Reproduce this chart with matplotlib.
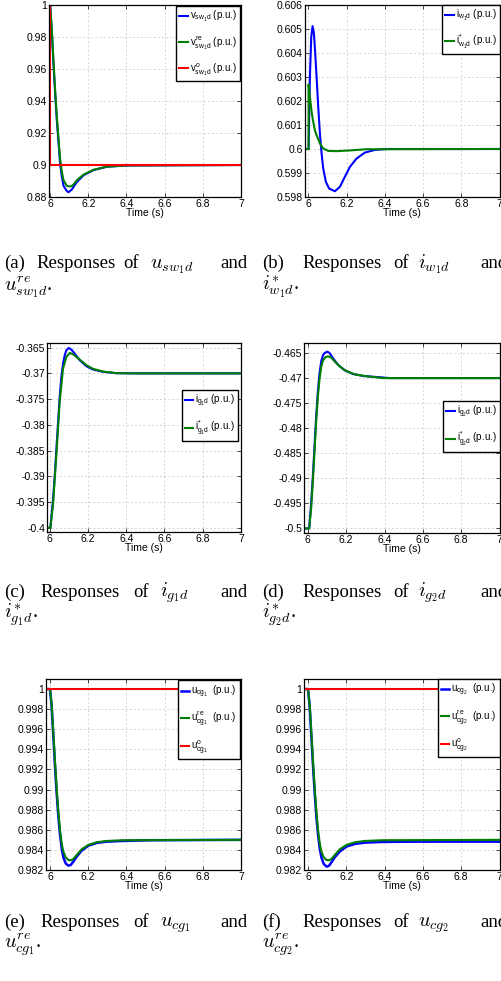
"""
Step responses of the converter states (six panels, 3 x 2, paper style).
"""

import numpy as np
import matplotlib
matplotlib.use('Agg')
import matplotlib.pyplot as plt
from matplotlib.ticker import FormatStrFormatter

plt.rcParams['font.family'] = ['Liberation Sans', 'DejaVu Sans']
plt.rcParams['mathtext.fontset'] = 'custom'
plt.rcParams['mathtext.rm'] = 'Liberation Sans'
plt.rcParams['mathtext.it'] = 'Liberation Sans'
plt.rcParams['mathtext.bf'] = 'Liberation Sans:bold'

BLUE, GREEN, RED = '#0000ff', '#008000', '#ff0000'

# ---------------- data ----------------
# (a) u_sw1d
t_a_blue = [5.98, 6.0, 6.009, 6.017, 6.026, 6.035, 6.044, 6.052, 6.061, 6.07,
            6.087, 6.096, 6.113, 6.14, 6.175, 6.227, 6.297, 6.401, 7.0]
v_a_blue = [1.0, 1.0, 0.983, 0.964, 0.945, 0.928, 0.914, 0.901, 0.893, 0.887,
            0.8838, 0.8830, 0.8846, 0.8894, 0.8936, 0.8968, 0.8989, 0.8997, 0.9]
t_a_green = [5.98, 6.0, 6.009, 6.017, 6.026, 6.035, 6.044, 6.052, 6.061, 6.07,
             6.087, 6.105, 6.12, 6.14, 6.175, 6.227, 6.297, 6.4, 7.0]
v_a_green = [1.0, 1.0, 0.984, 0.966, 0.947, 0.930, 0.916, 0.904, 0.896, 0.8905,
             0.887, 0.8865, 0.8875, 0.8905, 0.894, 0.897, 0.899, 0.8997, 0.9]
t_a_red = [5.98, 6.0, 6.0, 7.0]
v_a_red = [1.0, 1.0, 0.9, 0.9]

# (b) i_w1d
t_b_blue = [5.98, 6.0, 6.0017, 6.0087, 6.0157, 6.0226, 6.0296, 6.0365, 6.0435,
            6.0522, 6.0609, 6.0696, 6.0783, 6.0922, 6.1096, 6.1391, 6.1652,
            6.1913, 6.2174, 6.2522, 6.2957, 6.3478, 6.4087, 7.0]
v_b_blue = [0.6, 0.6, 0.6, 0.60301, 0.60468, 0.60512, 0.60482, 0.60398, 0.60301,
            0.60176, 0.60065, 0.59982, 0.59919, 0.59863, 0.59835, 0.59824, 0.59842,
            0.59884, 0.59925, 0.5996, 0.59985, 0.59996, 0.6, 0.6]
t_b_green = [5.98, 6.0017, 6.0017, 6.0087, 6.0174, 6.0261, 6.0348, 6.0435, 6.0609,
             6.0783, 6.1043, 6.1478, 6.2174, 6.3043, 7.0]
v_b_green = [0.6, 0.6, 0.60269, 0.60218, 0.60155, 0.60113, 0.60078, 0.60058, 0.60023,
             0.60002, 0.59992, 0.59991, 0.59994, 0.59999, 0.6]

# (c) i_g1d
t_c_blue = [5.98, 6.0035, 6.0175, 6.0262, 6.0349, 6.0436, 6.0524, 6.0611, 6.0698,
            6.0785, 6.0873, 6.0995, 6.1134, 6.1309, 6.1571, 6.192, 6.2269, 6.2792,
            6.349, 6.4363, 7.0]
v_c_blue = [-0.4, -0.4, -0.39451, -0.39, -0.38484, -0.37969, -0.37454, -0.37067,
            -0.36809, -0.36648, -0.36552, -0.36506, -0.36539, -0.36616, -0.36745,
            -0.36861, -0.36925, -0.3697, -0.36996, -0.37, -0.37]
t_c_green = [5.98, 6.0035, 6.0175, 6.0349, 6.0524, 6.0698, 6.0873, 6.1047, 6.1222,
             6.1571, 6.192, 6.2269, 6.2792, 6.349, 6.4363, 7.0]
v_c_green = [-0.4, -0.4, -0.39548, -0.38581, -0.3755, -0.36906, -0.3668, -0.36603,
             -0.36629, -0.36732, -0.36841, -0.36912, -0.36964, -0.36996, -0.37, -0.37]

# (d) i_g2d
t_d_blue = [5.98, 6.007, 6.0175, 6.0262, 6.0349, 6.0436, 6.0524, 6.0611, 6.0698,
            6.0785, 6.0873, 6.1012, 6.1134, 6.1309, 6.1571, 6.192, 6.2356, 6.288,
            6.3578, 6.4276, 7.0]
v_d_blue = [-0.5, -0.5, -0.49488, -0.48957, -0.48359, -0.47762, -0.47264, -0.46898,
            -0.46666, -0.46553, -0.465, -0.46473, -0.465, -0.466, -0.46732, -0.46845,
            -0.46918, -0.46958, -0.46978, -0.47, -0.47]
t_d_green = [5.98, 6.007, 6.0175, 6.0262, 6.0349, 6.0436, 6.0524, 6.0611, 6.0698,
             6.0785, 6.0925, 6.1065, 6.1222, 6.1396, 6.1658, 6.2007, 6.2443, 6.2967,
             6.3927, 7.0]
v_d_green = [-0.5, -0.5, -0.49588, -0.49057, -0.48459, -0.47861, -0.47363, -0.47018,
             -0.46779, -0.46653, -0.4658, -0.46566, -0.46593, -0.46666, -0.46766,
             -0.46859, -0.46925, -0.46958, -0.47, -0.47]

# (e) u_cg1
t_e_blue = [5.98, 6.0, 6.0087, 6.0175, 6.0262, 6.0349, 6.0436, 6.0524, 6.0611,
            6.0698, 6.082, 6.096, 6.1082, 6.1222, 6.1396, 6.1658, 6.2007, 6.2443,
            6.2967, 6.3839, 6.5236, 7.0]
v_e_blue = [1.0, 1.0, 0.99827, 0.99528, 0.9923, 0.98964, 0.98731, 0.98549, 0.98416,
            0.98326, 0.98266, 0.98243, 0.9825, 0.98283, 0.98333, 0.98393, 0.98442,
            0.98469, 0.98482, 0.98489, 0.98496, 0.985]
t_e_green = [5.98, 6.0, 6.0087, 6.0175, 6.0262, 6.0349, 6.0436, 6.0524, 6.0611,
             6.0698, 6.082, 6.096, 6.1082, 6.1222, 6.1396, 6.1658, 6.2007, 6.2443,
             6.2967, 6.3839, 7.0]
v_e_green = [1.0, 1.0, 0.99844, 0.99562, 0.99279, 0.99014, 0.98781, 0.98599, 0.98466,
             0.98383, 0.98326, 0.983, 0.98296, 0.9831, 0.98349, 0.98406, 0.98449,
             0.98476, 0.98489, 0.98496, 0.985]
t_e_red = [5.98, 7.0]
v_e_red = [1.0, 1.0]

# (f) u_cg2
t_f_blue = [5.98, 6.0, 6.0087, 6.0175, 6.0262, 6.0349, 6.0436, 6.0524, 6.0611,
            6.0698, 6.082, 6.0977, 6.1099, 6.1222, 6.1396, 6.1658, 6.2007, 6.2443,
            6.2967, 6.3839, 6.5672, 7.0]
v_f_blue = [1.0, 1.0, 0.99827, 0.99528, 0.9923, 0.98964, 0.98731, 0.98549, 0.98416,
            0.98326, 0.9826, 0.98233, 0.98243, 0.98276, 0.98326, 0.98383, 0.98433,
            0.98459, 0.98472, 0.98479, 0.98482, 0.98482]
t_f_green = t_e_green
v_f_green = v_e_green
t_f_red = [5.98, 7.0]
v_f_red = [1.0, 1.0]

x_ticks = [6, 6.2, 6.4, 6.6, 6.8, 7]

# caption words (line 1 and line 2 of each sub-caption)
cap_a = (['(a)', 'Responses', 'of', r'$u_{sw_1d}$', 'and'], r'$u^{re}_{sw_1d}$.')
cap_b = (['(b)', 'Responses', 'of', r'$i_{w_1d}$', 'and'], r'$i^{*}_{w_1d}$.')
cap_c = (['(c)', 'Responses', 'of', r'$i_{g_1d}$', 'and'], r'$i^{*}_{g_1d}$.')
cap_d = (['(d)', 'Responses', 'of', r'$i_{g_2d}$', 'and'], r'$i^{*}_{g_2d}$.')
cap_e = (['(e)', 'Responses', 'of', r'$u_{cg_1}$', 'and'], r'$u^{re}_{cg_1}$.')
cap_f = (['(f)', 'Responses', 'of', r'$u_{cg_2}$', 'and'], r'$u^{re}_{cg_2}$.')

# ---------------- layout (pixels of the 501 x 981 page) ----------------
W, H = 501, 981
TICK_FS = 7.5
LEG_FS = 7.0
CAP_FS = 13.5
MATH_SCALE = 1.08


def px_axes(fig, left, right, top, bottom):
    return fig.add_axes([left / W, 1 - bottom / H, (right - left) / W, (bottom - top) / H])


def style_axes(ax, xlim, ylim, yticks):
    ax.set_xlim(*xlim)
    ax.set_ylim(*ylim)
    ax.set_xticks(x_ticks)
    ax.set_yticks(yticks)
    ax.xaxis.set_major_formatter(FormatStrFormatter('%g'))
    ax.yaxis.set_major_formatter(FormatStrFormatter('%g'))
    ax.tick_params(direction='in', length=3, width=0.5, top=True, right=True,
                   labelsize=TICK_FS, pad=1.5, colors='black')
    ax.grid(True, color='#c8c8c8', linestyle=(0, (3, 3)), linewidth=0.5)
    ax.set_axisbelow(True)
    for s in ax.spines.values():
        s.set_linewidth(0.9)
        s.set_color('black')
    ax.set_xlabel('Time (s)', fontsize=TICK_FS, labelpad=-1)


def add_legend(ax, **kw):
    leg = ax.legend(fontsize=LEG_FS, handlelength=0.9, handletextpad=0.2,
                    labelspacing=1.0, borderpad=0.3, fancybox=False,
                    framealpha=1, edgecolor='black', **kw)
    leg.get_frame().set_linewidth(1.0)
    return leg


def caption(fig, cap, xs, y1, y2):
    words, second = cap
    for w, x in zip(words, xs):
        size = CAP_FS * MATH_SCALE if w.startswith('$') else CAP_FS
        fig.text(x / W, 1 - y1 / H, w, fontsize=size, family='Liberation Serif',
                 math_fontfamily='cm', va='baseline')
    fig.text(xs[0] / W, 1 - y2 / H, second, fontsize=CAP_FS * MATH_SCALE,
             family='Liberation Serif', math_fontfamily='cm', va='baseline')


fig = plt.figure(figsize=(W / 100, H / 100), dpi=100)

LW = 1.5

# (a)
ax = px_axes(fig, 49, 241, 5, 197)
ax.plot(t_a_blue, v_a_blue, color=BLUE, lw=LW, label=r'$v_{sw_1d}$ (p.u.)')
ax.plot(t_a_green, v_a_green, color=GREEN, lw=LW, label=r'$v^{re}_{sw_1d}$ (p.u.)')
ax.plot(t_a_red, v_a_red, color=RED, lw=LW, label=r'$v^{o}_{sw_1d}$ (p.u.)')
style_axes(ax, (5.994, 7), (0.88, 1.0), np.round(np.arange(0.88, 1.001, 0.02), 3))
add_legend(ax, loc='upper right', borderaxespad=0.15)

# (b)
ax = px_axes(fig, 305, 499.5, 5, 197)
ax.plot(t_b_blue, v_b_blue, color=BLUE, lw=LW, label=r'$i_{w_1d}$ (p.u.)')
ax.plot(t_b_green, v_b_green, color=GREEN, lw=LW, label=r'$i^{*}_{w_1d}$ (p.u.)')
style_axes(ax, (5.983, 7), (0.598, 0.606), np.round(np.arange(0.598, 0.6061, 0.001), 4))
add_legend(ax, loc='upper right', borderaxespad=0.0)

# (c)
ax = px_axes(fig, 47, 241, 343, 532)
ax.plot(t_c_blue, v_c_blue, color=BLUE, lw=LW, label=r'$i_{g_1d}$ (p.u.)')
ax.plot(t_c_green, v_c_green, color=GREEN, lw=LW, label=r'$i^{*}_{g_1d}$ (p.u.)')
style_axes(ax, (5.986, 7), (-0.4008, -0.3641), np.round(np.arange(-0.4, -0.3649, 0.005), 4))
add_legend(ax, loc='center right', bbox_to_anchor=(0.985, 0.616), borderaxespad=0.0)

# (d)
ax = px_axes(fig, 304, 499.5, 343, 533)
ax.plot(t_d_blue, v_d_blue, color=BLUE, lw=LW, label=r'$i_{g_2d}$ (p.u.)')
ax.plot(t_d_green, v_d_green, color=GREEN, lw=LW, label=r'$i^{*}_{g_2d}$ (p.u.)')
style_axes(ax, (5.98, 7), (-0.5009, -0.463), np.round(np.arange(-0.5, -0.4649, 0.005), 4))
add_legend(ax, loc='center right', bbox_to_anchor=(1.0, 0.56), borderaxespad=0.0)

# (e)
ax = px_axes(fig, 46, 241, 679, 870)
ax.plot(t_e_blue, v_e_blue, color=BLUE, lw=1.8, label=r'$u_{cg_1}$  (p.u.)')
ax.plot(t_e_green, v_e_green, color=GREEN, lw=LW, label=r'$u^{re}_{cg_1}$  (p.u.)')
ax.plot(t_e_red, v_e_red, color=RED, lw=LW, label=r'$u^{o}_{cg_1}$')
style_axes(ax, (5.979, 7), (0.982, 1.001), np.round(np.arange(0.982, 1.0001, 0.002), 3))
add_legend(ax, loc='upper right', borderaxespad=0.15)

# (f)
ax = px_axes(fig, 304, 499.5, 679, 870)
ax.plot(t_f_blue, v_f_blue, color=BLUE, lw=1.8, label=r'$u_{cg_2}$  (p.u.)')
ax.plot(t_f_green, v_f_green, color=GREEN, lw=LW, label=r'$u^{re}_{cg_2}$  (p.u.)')
ax.plot(t_f_red, v_f_red, color=RED, lw=LW, label=r'$u^{o}_{cg_2}$')
style_axes(ax, (5.979, 7), (0.982, 1.001), np.round(np.arange(0.982, 1.0001, 0.002), 3))
add_legend(ax, loc='upper right', borderaxespad=0.0)

# captions: word start positions in page pixels
xs_a = [4, 36, 123, 150, 220]
xs_cd = [4, 40, 133, 160, 220]
xs_right = [262, 302, 393, 418, 480]
caption(fig, cap_a, xs_a, 268, 290)
caption(fig, cap_b, xs_right, 268, 290)
caption(fig, cap_c, xs_cd, 597, 619)
caption(fig, cap_d, xs_right, 597, 619)
caption(fig, cap_e, xs_cd, 927, 948)
caption(fig, cap_f, xs_right, 927, 948)

fig.savefig('out.png', dpi=100, facecolor='white')
